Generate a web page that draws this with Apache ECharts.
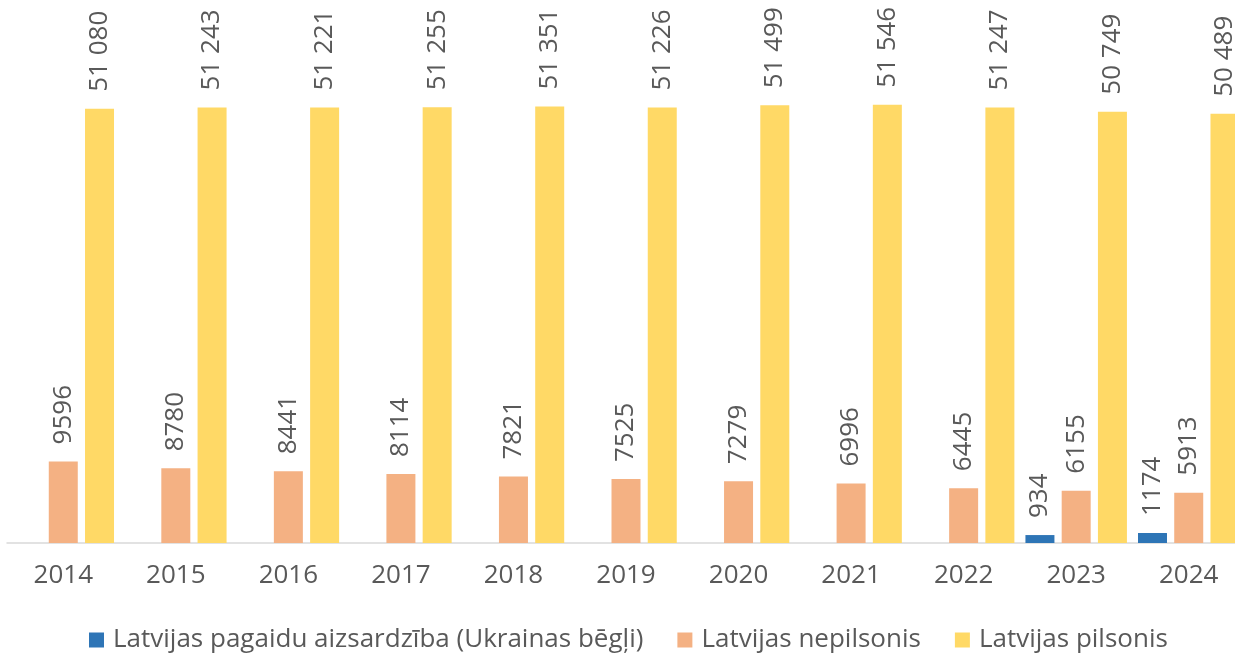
<!DOCTYPE html>
<html>
<head>
<meta charset="utf-8">
<script src="https://cdn.jsdelivr.net/npm/echarts@6/dist/echarts.min.js"></script>
<style>
  html, body { margin: 0; padding: 0; background: #fff; overflow: hidden; }
  /* nedaudz platāks par logu, lai pēdējais stabiņš iziet aiz malas kā oriģinālā */
  #chart { width: 1250px; height: 656px; }
</style>
</head>
<body>
<div id="chart"></div>
<script>
// dati
const years = ['2014', '2015', '2016', '2017', '2018', '2019', '2020', '2021', '2022', '2023', '2024'];
const ukrRefugees = [null, null, null, null, null, null, null, null, null, 934, 1174];
const nonCitizens = [9596, 8780, 8441, 8114, 7821, 7525, 7279, 6996, 6445, 6155, 5913];
const citizens = [51080, 51243, 51221, 51255, 51351, 51226, 51499, 51546, 51247, 50749, 50489];
const seriesNames = ['Latvijas pagaidu aizsardzība (Ukrainas bēgļi)', 'Latvijas nepilsonis', 'Latvijas pilsonis'];

const textColor = '#595959';
const fontFamily = '"Open Sans", "Noto Sans", sans-serif';

// skaitlis ar atstarpi tūkstošiem (tikai lielajiem)
function fmt(v) {
  if (v >= 10000) {
    const s = String(v);
    return s.slice(0, s.length - 3) + ' ' + s.slice(-3);
  }
  return String(v);
}

const labelCfg = {
  show: true,
  position: 'top',
  rotate: 90,
  align: 'left',
  verticalAlign: 'middle',
  distance: 17,
  color: textColor,
  fontSize: 26,
  fontFamily: fontFamily,
  formatter: p => (p.value == null ? '' : fmt(p.value)),
};

const chart = echarts.init(document.getElementById('chart'));
const option = {
  animation: false,
  grid: { left: 7, right: 5, top: 33, bottom: 113 },
  legend: {
    bottom: -2,
    left: 84,
    itemWidth: 15,
    itemHeight: 15,
    itemGap: 34,
    icon: 'rect',
    textStyle: { color: textColor, fontSize: 26, fontFamily: fontFamily, padding: [0, 0, 0, 4] },
    data: seriesNames,
  },
  xAxis: {
    type: 'category',
    data: years,
    axisLine: { lineStyle: { color: '#d9d9d9', width: 1.5 } },
    axisTick: { show: false },
    axisLabel: { color: textColor, fontSize: 26, fontFamily: fontFamily, margin: 20 },
  },
  yAxis: {
    type: 'value',
    min: 0,
    max: 60000,
    show: false,
  },
  series: [
    {
      name: seriesNames[0],
      type: 'bar',
      data: ukrRefugees,
      barWidth: 29,
      barGap: '25%',
      itemStyle: { color: '#2E75B6' },
      label: labelCfg,
    },
    {
      name: seriesNames[1],
      type: 'bar',
      data: nonCitizens,
      barWidth: 29,
      barGap: '25%',
      itemStyle: { color: '#F4B183' },
      label: labelCfg,
    },
    {
      name: seriesNames[2],
      type: 'bar',
      data: citizens,
      barWidth: 29,
      barGap: '25%',
      itemStyle: { color: '#FFD966' },
      label: labelCfg,
    },
  ],
};
chart.setOption(option);
</script>
</body>
</html>
